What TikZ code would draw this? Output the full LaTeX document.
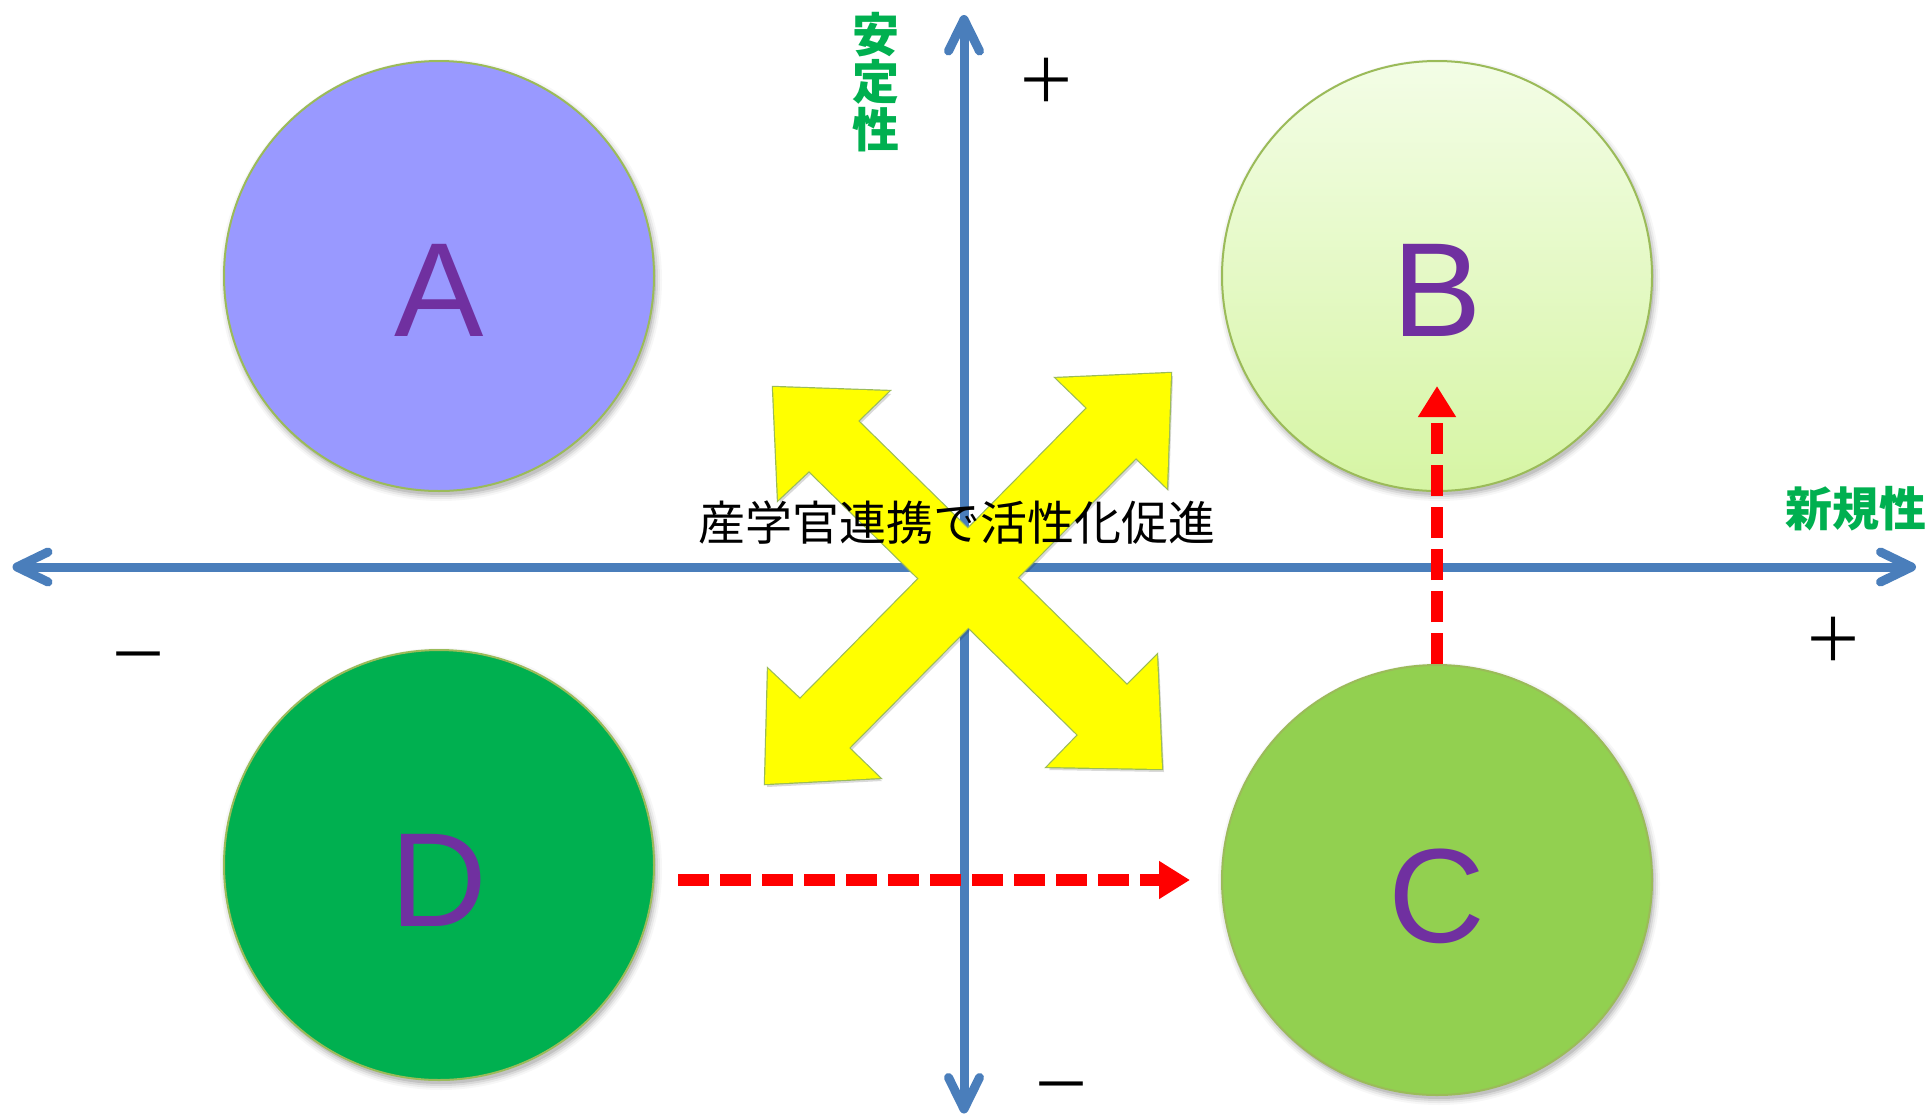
\documentclass[tikz,border=0pt]{standalone}
\usepackage{fontspec}
\setmainfont{Liberation Sans}
\newfontfamily\jp{Noto Sans CJK JP}
\usetikzlibrary{arrows.meta,calc}
\definecolor{axisblue}{HTML}{4A7EBB}
\definecolor{cA}{HTML}{9999FF}
\definecolor{cBtop}{HTML}{F3FDE6}
\definecolor{cBbot}{HTML}{D6F5A4}
\definecolor{cC}{HTML}{92D050}
\definecolor{cD}{HTML}{00B050}
\definecolor{olive}{HTML}{9BBB59}
\definecolor{letterpurple}{HTML}{7030A0}
\definecolor{labgreen}{HTML}{00B050}
\definecolor{ylw}{HTML}{FFFF00}
\definecolor{redarr}{HTML}{FF0000}
\def\armNWSE{(773,387) -- (889,391) -- (858,421) -- (1127,685) -- (1157,655) -- (1162,769) -- (1047,767) -- (1078,735) -- (809,471) -- (778,500) -- cycle}
\def\armNESW{(1171,373) -- (1056,378) -- (1087,408) -- (800,699) -- (768,669) -- (765,784) -- (880,778) -- (849,748) -- (1136,458) -- (1167,488) -- cycle}
\newcommand\circshadow[2]{%
  \foreach \dr/\op in {0/0.10,2/0.07,4/0.05,6/0.03}{%
    \fill[black,opacity=\op] (#1+2,#2+4) circle ({215pt+\dr pt});}}
\tikzset{
  circ/.style={circle, minimum size=430pt, inner sep=0pt, draw=olive, line width=2pt},
  letter/.style={anchor=base, text=letterpurple, font=\fontsize{134}{134}\selectfont},
  axisline/.style={draw=axisblue, line width=9pt},
  axishead/.style={draw=axisblue, line width=9pt, line cap=round, line join=round},
  reddash/.style={draw=redarr, line width=12pt, dash pattern=on 31pt off 11pt, -{Triangle[length=31pt,width=36pt]}},
  pm/.style={anchor=base, inner sep=0pt, text depth=0pt, font=\jp\fontsize{60}{60}\selectfont},
  glabel/.style={text=labgreen, font=\jp\bfseries\fontsize{47}{47.5}\selectfont, align=center, inner sep=0pt}
}
\begin{document}
\begin{tikzpicture}[x=1pt,y=-1pt]
\fill[white] (0,0) rectangle (1932,1114);
\useasboundingbox (0,0) rectangle (1932,1114);
% circles
\circshadow{439}{276}
\circshadow{1437}{276}
\circshadow{1437}{880}
\circshadow{439}{865}
\node[circ, fill=cA] (A) at (439,276) {};
\node[circ, top color=cBtop, bottom color=cBbot] (B) at (1437,276) {};
\node[circ, fill=cC] (C) at (1437,880) {};
\node[circ, fill=cD] (D) at (439,865) {};
\node[letter] (tA) at ([yshift=-60pt]A.center) {A};
\node[letter] (tB) at ([yshift=-60pt]B.center) {B};
\node[letter] (tC) at ([yshift=-62pt]C.center) {C};
\node[letter] (tD) at ([yshift=-61pt]D.center) {D};
% axes
\coordinate (xl) at (17,567);
\coordinate (xr) at (1911.5,567);
\coordinate (yt) at (964,19.5);
\coordinate (yb) at (964,1109);
\draw[axisline] (xl) -- (xr);
\draw[axisline] (yt) -- (yb);
\draw[axishead] ($(xl)+(31,-15)$) -- (xl) -- ($(xl)+(31,15)$);
\draw[axishead] ($(xr)+(-31,-15)$) -- (xr) -- ($(xr)+(-31,15)$);
\draw[axishead] ($(yt)+(-15.5,31.5)$) -- (yt) -- ($(yt)+(15.5,31.5)$);
\draw[axishead] ($(yb)+(-15.5,-31.5)$) -- (yb) -- ($(yb)+(15.5,-31.5)$);
% red dashed arrows
\coordinate (rs) at ([xshift=23pt]D.east |- C.west);
\draw[reddash] (rs) -- ([xshift=-31pt]C.west);
\draw[reddash] (C.north) -- ([yshift=106pt]B.south);
% yellow cross arrows
\fill[black, opacity=0.15, xshift=2pt, yshift=-3pt] \armNWSE;
\fill[black, opacity=0.15, xshift=2pt, yshift=-3pt] \armNESW;
\draw[olive, line width=2.4pt, line join=miter] \armNWSE;
\draw[olive, line width=2.4pt, line join=miter] \armNESW;
\fill[ylw] \armNWSE;
\fill[ylw] \armNESW;
% texts
\node[font=\jp\fontsize{47}{47}\selectfont, inner sep=0pt] (mid) at (957,523) {産学官連携で活性化促進};
\node[glabel] (ylab) at (876,82) {安\\定\\性};
\node[glabel] (xlab) at (1856,509) {新規性};
\node[pm] (p1) at (1046,102) {＋};
\node[pm] (p2) at (1833,661) {＋};
\node[pm] (m1) at (138,676) {－};
\node[pm] (m2) at (1061,1106) {－};
\end{tikzpicture}
\end{document}
